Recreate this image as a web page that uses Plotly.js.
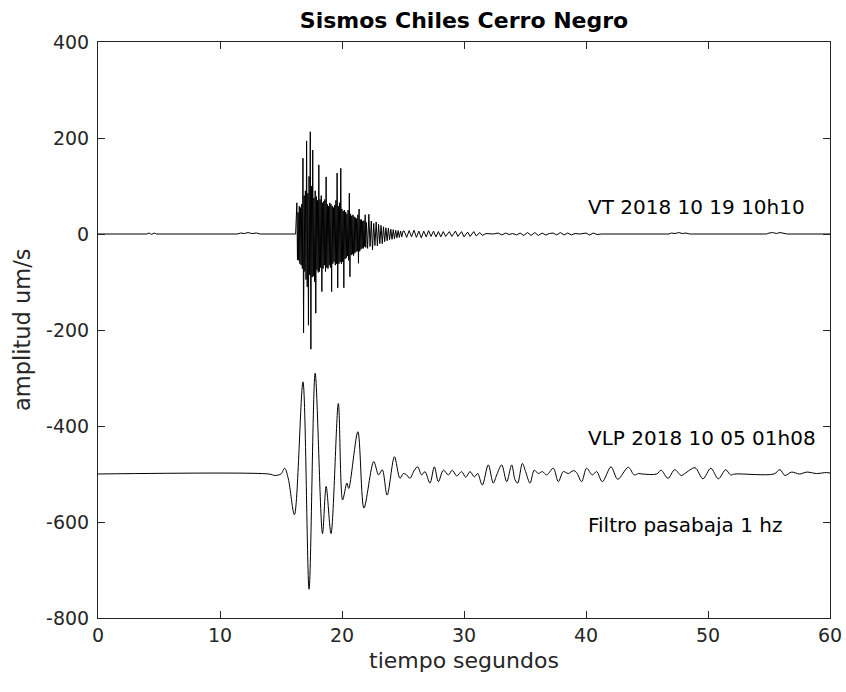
<!DOCTYPE html>
<html>
<head>
<meta charset="utf-8">
<script src="https://cdn.plot.ly/plotly-3.0.1.min.js"></script>
<style>html,body{margin:0;padding:0;background:#fff;}#chart{width:846px;height:692px;}</style>
</head>
<body>
<div id="chart"></div>
<script>
// VT 2018 10 19 10h10 — time (s) and amplitude (um/s)
const vtTime = [0, 4.0, 4.2, 4.4, 4.6, 4.8, 11.4, 11.7, 12.0, 12.3, 12.6, 13.0, 13.3, 16.2,
  16.30, 16.35, 16.40, 16.45, 16.50, 16.55, 16.60, 16.65, 16.70, 16.75, 16.80, 16.85, 16.90, 16.95,
  17.00, 17.05, 17.10, 17.15, 17.20, 17.25, 17.30, 17.35, 17.40, 17.45, 17.50, 17.55, 17.60, 17.65,
  17.70, 17.75, 17.80, 17.85, 17.90, 17.95, 18.00, 18.05, 18.10, 18.15, 18.20, 18.25, 18.30, 18.35,
  18.40, 18.45, 18.50, 18.55, 18.60, 18.65, 18.70, 18.75, 18.80, 18.85, 18.90, 18.95, 19.00, 19.05,
  19.10, 19.15, 19.20, 19.25, 19.30, 19.35, 19.40, 19.45, 19.50, 19.55, 19.60, 19.65, 19.70, 19.75,
  19.80, 19.85, 19.90, 19.95, 20.00, 20.05, 20.10, 20.15, 20.20, 20.25, 20.30, 20.35, 20.40, 20.45,
  20.50, 20.55, 20.60, 20.65, 20.70, 20.75, 20.80, 20.85, 20.90, 20.95, 21.00, 21.05, 21.10, 21.15,
  21.20, 21.25, 21.30, 21.35, 21.40, 21.45, 21.50, 21.55, 21.60, 21.65, 21.70, 21.75, 21.80, 21.85,
  21.90, 21.95, 22.00,
  22.1, 22.2, 22.3, 22.4, 22.5, 22.6, 22.7, 22.8, 22.9, 23.0, 23.1, 23.2, 23.3, 23.4, 23.5, 23.6,
  23.7, 23.8, 23.9, 24.0, 24.1, 24.2, 24.3, 24.4, 24.5, 24.6, 24.7, 24.8, 24.9, 25.0,
  25.1, 25.3, 25.5, 25.7, 25.9, 26.1, 26.3, 26.5, 26.7, 26.9, 27.1, 27.3, 27.5, 27.7, 27.9, 28.1,
  28.3, 28.5, 28.8, 29.0, 29.3, 29.5, 29.8, 30.0, 30.3, 30.5, 30.8, 31.0, 31.3, 31.5, 31.8, 32.4,
  32.8, 33.1, 33.4, 33.7, 34.0, 34.3, 34.6, 34.9, 35.2, 35.5, 35.8, 36.1, 36.4, 36.7, 37.0, 37.3,
  37.6, 37.9, 38.2, 38.5, 38.8, 39.1, 39.5, 40.0, 40.3, 40.6, 40.9, 41.3, 46.8, 47.0, 47.3, 47.6,
  47.9, 48.2, 48.5, 54.8, 55.0, 55.3, 55.6, 55.9, 56.2, 56.5, 60];
const vtAmp = [0, 0, 2, -1, 2, 0, 0, 2, 1, 3, 1, 2, 0, 0,
  65, -54, 45, -55, 58, -62, 55, -65, 62, -72, 158, -206, 80, -78,
  90, -95, 194, -110, 85, -190, 120, -85, 213, -240, 100, -90, 175, -88,
  75, -100, 90, -165, 78, -75, 70, -80, 144, -78, 72, -70, 80, -120,
  65, -72, 68, -65, 72, -78, 119, -70, 62, -72, 58, -65, 65, -70,
  62, -120, 58, -62, 55, -58, 60, -65, 70, -62, 127, -112, 58, -62,
  65, -58, 137, -62, 52, -58, 48, -112, 50, -52, 46, -50, 42, -46,
  50, -55, 85, -89, 42, -44, 38, -42, 40, -45, 36, -40, 34, -37,
  32, -36, 40, -61, 52, -36, 30, -32, 30, -30, 27, -30, 28, -26,
  40, -28, 24,
  -30, 41, -26, 27, -33, 22, -24, 25, -25, 20, -20, 18, -20, 15, -16, 13,
  -14, 12, -12, 10, -11, 9, -10, 8, -8, 7, -7, 6, -6, 6,
  6, -7, 7, -6, 8, -7, 6, -8, 6, -6, 7, -5, 6, -6, 5, -6,
  5, -5, 5, -5, 6, -5, 5, -6, 4, -5, 5, -4, 3, -3, 1, 0,
  2, -2, 2, -1, 1, -2, 2, -3, 3, -3, 3, -3, 2, -2, 1, 2,
  -2, 3, -2, 2, -2, 1, 0, 2, -2, 2, -1, 0, 0, 2, 1, 3,
  1, 2, 0, 0, 2, 3, 1, 3, 2, 0, 0];

// VLP 2018 10 05 01h08 (filtro pasabaja 1 hz) — time (s) and amplitude (um/s)
const vlpTime = [0, 14.0, 14.5, 15.0, 15.3, 15.6, 16.1, 16.8, 17.3, 17.8, 18.4, 18.7, 19.1, 19.7,
  20.05, 20.4, 20.55, 21.3, 21.8, 22.6, 23.0, 23.3, 23.7, 24.3, 24.75, 25.03, 25.3, 25.57, 25.93,
  26.2, 26.53, 26.8, 27.21, 27.57, 27.9, 28.31, 28.72, 29.04, 29.4, 29.81, 30.14, 30.49, 30.85,
  31.12, 31.5, 31.99, 32.4, 32.68, 33.09, 33.5, 33.91, 34.18, 34.4, 34.78, 35.05, 35.41, 35.76,
  36.09, 36.42, 36.78, 37.32, 37.73, 38.14, 38.55, 38.96, 39.23, 39.64, 40.05, 40.52, 40.87,
  41.34, 42.05, 42.6, 43.47, 43.95, 44.3, 44.6, 45.8, 46.15, 46.72, 47.27, 47.8, 48.1, 48.94,
  49.58, 50.23, 50.85, 51.45, 51.85, 52.2, 55.4, 55.9, 56.3, 56.86, 57.5, 58.1, 58.9, 59.7, 60];
const vlpAmp = [-500, -500, -503, -500, -488, -510, -585, -308, -740, -290, -624, -526, -624, -353,
  -554, -519, -530, -412, -571, -474, -502, -491, -544, -464, -509, -499, -502, -509, -492,
  -485, -502, -495, -519, -485, -516, -492, -502, -492, -504, -495, -507, -495, -506,
  -499, -523, -481, -519, -502, -481, -516, -481, -512, -519, -478, -495, -519, -492,
  -499, -495, -502, -488, -516, -495, -499, -493, -497, -516, -488, -502, -495,
  -516, -485, -511, -486, -502, -499, -500, -500, -492, -509, -491, -503, -499, -487,
  -510, -488, -510, -491, -502, -500, -500, -491, -503, -496, -500, -496, -499, -497, -498];

const xTicks = [0, 10, 20, 30, 40, 50, 60];
const yTicks = [-800, -600, -400, -200, 0, 200, 400];
const labels = ['VT 2018 10 19 10h10', 'VLP 2018 10 05 01h08', 'Filtro pasabaja 1 hz'];
const labelY = [56, -425, -606];

const FONT = 'DejaVu Sans, Liberation Sans, Arial, sans-serif';
const AX = '#262626';

const traces = [
  {x: vtTime, y: vtAmp, type: 'scatter', mode: 'lines', line: {color: '#000', width: 1}, hoverinfo: 'skip'},
  {x: vlpTime, y: vlpAmp, type: 'scatter', mode: 'lines', line: {color: '#000', width: 1, shape: 'spline', smoothing: 0.9}, hoverinfo: 'skip'}
];

const axisCommon = {
  showgrid: false, zeroline: false, showline: true, mirror: 'ticks',
  linecolor: AX, linewidth: 1, ticks: 'inside', ticklen: 7, tickcolor: AX, tickwidth: 1,
  tickfont: {family: FONT, size: 19, color: AX}, fixedrange: true
};

const annots = labels.map((t, i) => ({
  text: t, x: 40, y: labelY[i], xref: 'x', yref: 'y', xanchor: 'left', yanchor: 'middle',
  showarrow: false, font: {family: FONT, size: 20, color: '#000'}
}));
annots.push({text: 'tiempo segundos', x: 0.5, y: -(660 - 618) / 576, xref: 'paper', yref: 'paper',
  xanchor: 'center', yanchor: 'middle', showarrow: false, borderpad: 0,
  font: {family: FONT, size: 22, color: AX}});
annots.push({text: 'amplitud um/s', x: -(98 - 22) / 732, y: 0.5, xref: 'paper', yref: 'paper', textangle: -90,
  xanchor: 'center', yanchor: 'middle', showarrow: false, font: {family: FONT, size: 22.5, color: AX}});

const layout = {
  width: 846, height: 692,
  margin: {l: 98, r: 16, t: 42, b: 74},
  paper_bgcolor: '#fff', plot_bgcolor: '#fff',
  showlegend: false,
  title: {text: '<b>Sismos Chiles Cerro Negro</b>', font: {family: FONT, size: 22, color: '#000'},
          x: 0.5, xref: 'paper', y: 1 - 20 / 692, yref: 'container', yanchor: 'middle'},
  xaxis: Object.assign({}, axisCommon, {
    range: [0, 60], tickvals: xTicks, ticktext: xTicks.map(String), ticklabelstandoff: 0
  }),
  yaxis: Object.assign({}, axisCommon, {
    range: [-800, 400], tickvals: yTicks, ticktext: yTicks.map(v => String(v)), ticklabelstandoff: 4
  }),
  annotations: annots
};

Plotly.newPlot('chart', traces, layout, {staticPlot: true, displayModeBar: false});
</script>
</body>
</html>
